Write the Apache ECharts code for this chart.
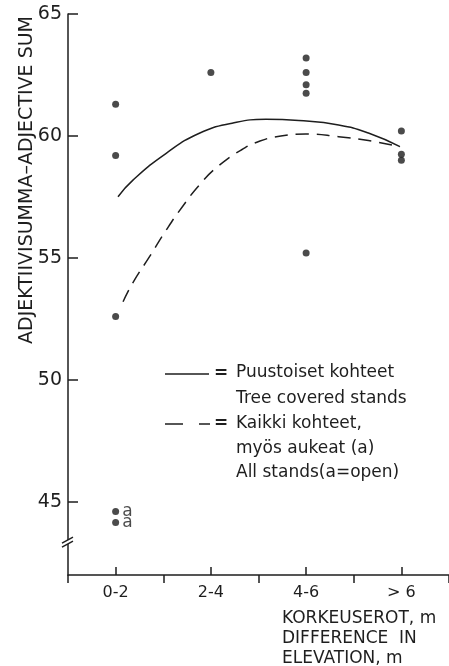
<!DOCTYPE html>
<html>
<head>
<meta charset="utf-8">
<script src="https://cdn.jsdelivr.net/npm/echarts@6/dist/echarts.min.js"></script>
<style>
html,body{margin:0;padding:0;background:#fff;}
#chart{width:449px;height:666px;}
</style>
</head>
<body>
<div id="chart"></div>
<script>
// ---- data ----
const categories = ['0-2', '2-4', '4-6', '> 6'];
const yTicks = [45, 50, 55, 60, 65];
// tree covered stands (dots), one list per elevation class
const stands0_2 = [61.3, 59.2, 52.6];
const stands2_4 = [62.6];
const stands4_6 = [63.2, 62.6, 62.1, 61.75, 55.2];
const standsOver6 = [60.2, 59.25, 59.0];
// open stands (labelled "a"), class 0-2
const openStands = [44.6, 44.15];
// fitted curves, x in class units (0 = left edge of 0-2, 4 = right edge of > 6)
const solidX = [0.525, 0.682, 1.031, 1.379, 1.723, 2.078, 2.423, 2.841, 3.154, 3.485];
const solidY = [57.51, 58.19, 59.29, 60.11, 60.52, 60.68, 60.63, 60.45, 60.12, 59.56];
const dashX = [0.578, 0.679, 0.856, 1.031, 1.201, 1.379, 1.567, 1.817, 2.016, 2.235, 2.496, 2.841, 3.154, 3.485];
const dashY = [53.20, 53.97, 55.05, 56.14, 57.10, 57.99, 58.73, 59.42, 59.79, 60.00, 60.08, 59.97, 59.81, 59.56];

const yTitle = 'ADJEKTIIVISUMMA–ADJECTIVE SUM';
const xTitle = 'KORKEUSEROT, m\nDIFFERENCE  IN\nELEVATION, m';
const legendLines = ['Puustoiset kohteet', 'Tree covered stands', 'Kaikki kohteet,', 'myös aukeat (a)', 'All stands(a=open)'];

// ---- build ----
const groups = [stands0_2, stands2_4, stands4_6, standsOver6];
const dots = [];
groups.forEach((g, i) => g.forEach(v => dots.push([i + 0.5, v])));
const openDots = openStands.map(v => [0.5, v]);
const solidData = solidX.map((x, i) => [x, solidY[i]]);
const dashData = dashX.map((x, i) => [x, dashY[i]]);
const centers = categories.map((c, i) => i + 0.5);

const FONT = 'DejaVu Sans';
const INK = '#1e1e1e';

const chart = echarts.init(document.getElementById('chart'), null, {renderer: 'canvas'});
const option = {
  backgroundColor: '#fff',
  animation: false,
  grid: {left: 68, top: 14, width: 383, height: 561, containLabel: false},
  xAxis: [
    {
      type: 'value', min: 0, max: 4, interval: 1,
      axisLine: {show: true, lineStyle: {color: INK, width: 1.5}},
      axisTick: {show: true, inside: false, length: 8, lineStyle: {color: INK, width: 1.5}},
      axisLabel: {show: false},
      splitLine: {show: false}
    },
    {
      type: 'value', min: 0, max: 4, position: 'bottom',
      axisLine: {show: false},
      axisTick: {show: true, inside: true, length: 8, customValues: centers, lineStyle: {color: INK, width: 1.5}},
      axisLabel: {
        show: true, customValues: centers, margin: 10,
        fontFamily: FONT, fontSize: 16, color: INK,
        formatter: v => categories[Math.floor(v)]
      },
      splitLine: {show: false}
    }
  ],
  yAxis: {
    type: 'value', min: 42, max: 65,
    axisLine: {show: true, lineStyle: {color: INK, width: 1.5}},
    axisTick: {show: true, inside: true, length: 10, customValues: yTicks, lineStyle: {color: INK, width: 1.5}},
    axisLabel: {show: true, customValues: yTicks, margin: 6, fontFamily: FONT, fontSize: 19, color: INK},
    splitLine: {show: false}
  },
  series: [
    {
      type: 'line', data: solidData, smooth: 0.5, symbol: 'none',
      lineStyle: {color: INK, width: 1.5}, z: 2
    },
    {
      type: 'line', data: dashData, smooth: 0.5, symbol: 'none',
      lineStyle: {color: INK, width: 1.5, type: [13, 8]}, z: 2
    },
    {
      type: 'scatter', data: dots, symbol: 'circle', symbolSize: 7,
      itemStyle: {color: INK}, z: 3
    },
    {
      type: 'scatter', data: openDots, symbol: 'circle', symbolSize: 7,
      itemStyle: {color: INK}, z: 3,
      label: {show: true, position: 'right', distance: 3, formatter: 'a', fontFamily: FONT, fontSize: 17, color: INK}
    }
  ],
  graphic: [
    {
      type: 'text', x: 27, y: 180, rotation: Math.PI / 2,
      style: {text: yTitle, fontFamily: FONT, fontSize: 19, fill: INK, align: 'center', verticalAlign: 'middle'}
    },
    {
      type: 'text', x: 282, y: 609,
      style: {text: xTitle, fontFamily: FONT, fontSize: 17, lineHeight: 20, fill: INK, align: 'left', verticalAlign: 'top'}
    },
    // legend
    {type: 'line', shape: {x1: 165, y1: 374, x2: 209, y2: 374}, style: {stroke: INK, lineWidth: 1.5}},
    {type: 'line', shape: {x1: 165, y1: 424, x2: 183, y2: 424}, style: {stroke: INK, lineWidth: 1.5}},
    {type: 'line', shape: {x1: 199, y1: 424, x2: 210, y2: 424}, style: {stroke: INK, lineWidth: 1.5}},
    {type: 'text', x: 214, y: 374, style: {text: '=', fontFamily: FONT, fontSize: 17, fontWeight: 'bold', fill: INK, verticalAlign: 'middle'}},
    {type: 'text', x: 214, y: 424, style: {text: '=', fontFamily: FONT, fontSize: 17, fontWeight: 'bold', fill: INK, verticalAlign: 'middle'}},
    {type: 'text', x: 236, y: 373, style: {text: legendLines[0], fontFamily: FONT, fontSize: 17, fill: INK, verticalAlign: 'middle'}},
    {type: 'text', x: 236, y: 399, style: {text: legendLines[1], fontFamily: FONT, fontSize: 17, fill: INK, verticalAlign: 'middle'}},
    {type: 'text', x: 236, y: 424, style: {text: legendLines[2], fontFamily: FONT, fontSize: 17, fill: INK, verticalAlign: 'middle'}},
    {type: 'text', x: 236, y: 449, style: {text: legendLines[3], fontFamily: FONT, fontSize: 17, fill: INK, verticalAlign: 'middle'}},
    {type: 'text', x: 236, y: 473, style: {text: legendLines[4], fontFamily: FONT, fontSize: 17, fill: INK, verticalAlign: 'middle'}}
  ]
};
chart.setOption(option);

// axis break mark on the y axis
const bx = chart.convertToPixel({xAxisIndex: 0}, 0);
const by = chart.convertToPixel({yAxisIndex: 0}, 43.35);
chart.setOption({
  graphic: option.graphic.concat([
    {type: 'rect', shape: {x: bx - 3, y: by - 2, width: 6, height: 4}, style: {fill: '#fff'}, z: 100},
    {type: 'line', shape: {x1: bx - 6, y1: by + 5, x2: bx + 5, y2: by - 1}, style: {stroke: INK, lineWidth: 1.5}, z: 101},
    {type: 'line', shape: {x1: bx - 6, y1: by + 1, x2: bx + 5, y2: by - 5}, style: {stroke: INK, lineWidth: 1.5}, z: 101}
  ])
});
</script>
</body>
</html>
